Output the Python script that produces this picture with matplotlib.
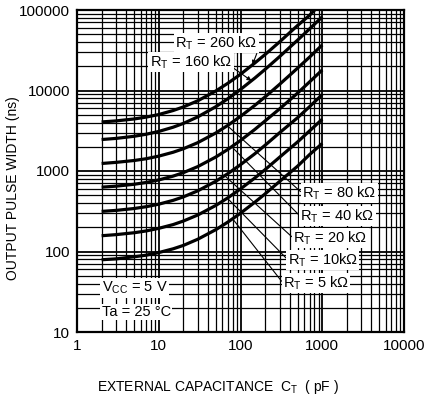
import numpy as np
import matplotlib
matplotlib.use("Agg")
import matplotlib.pyplot as plt
from matplotlib.ticker import LogLocator, FixedLocator, FixedFormatter, NullFormatter

plt.rcParams['font.family'] = ['Liberation Sans', 'DejaVu Sans']

# ---- data ----
C_PF = [2, 3, 5, 7, 10, 15, 20, 30, 50, 70, 100, 150, 200, 300, 500, 700, 1000]
TW_5K = [79, 81, 86, 90, 97, 108, 119, 142, 187, 232, 299, 410, 520, 740, 1150, 1600, 2200]
TW_10K = [157, 162, 171, 180, 194, 216, 239, 284, 374, 464, 599, 820, 1040, 1480, 2300, 3150, 4400]
TW_20K = [315, 324, 342, 360, 387, 432, 477, 567, 747, 927, 1197, 1640, 2090, 2980, 4600, 6300, 8900]
TW_40K = [630, 648, 684, 720, 774, 864, 954, 1134, 1494, 1854, 2394, 3290, 4190, 5900, 9300, 12800, 18000]
TW_80K = [1240, 1280, 1350, 1420, 1530, 1710, 1890, 2250, 2970, 3690, 4770, 6550, 8330, 11900, 19000, 26000, 36800]
TW_160K = [2460, 2540, 2700, 2860, 3100, 3500, 3900, 4700, 6300, 7900, 10300, 14300, 18300, 26300, 42300, 58300, 82300]
TW_260K = [4070, 4190, 4430, 4670, 5030, 5640, 6250, 7450, 9880, 12300, 15900, 22000, 28000, 40100, 64300, 86000, 124800]

SERIES = [TW_5K, TW_10K, TW_20K, TW_40K, TW_80K, TW_160K, TW_260K]
LABELS = ["5 kΩ", "10kΩ", "20 kΩ", "40 kΩ", "80 kΩ", "160 kΩ", "260 kΩ"]

X_TICKS = [1, 10, 100, 1000, 10000]
X_TICKLABELS = ["1", "10", "100", "1000", "10000"]
Y_TICKS = [10, 100, 1000, 10000, 100000]
Y_TICKLABELS = ["10", "100", "1000", "10000", "100000"]

fig = plt.figure(figsize=(4.24, 4.01), dpi=100)
ax = fig.add_axes([77/424, 1-332/401, (404-77)/424, (332-10)/401])
ax.set_xscale('log')
ax.set_yscale('log')
ax.set_xlim(1, 10000)
ax.set_ylim(10, 100000)

ax.xaxis.set_major_locator(FixedLocator(X_TICKS))
ax.xaxis.set_major_formatter(FixedFormatter(X_TICKLABELS))
ax.yaxis.set_major_locator(FixedLocator(Y_TICKS))
ax.yaxis.set_major_formatter(FixedFormatter(Y_TICKLABELS))
ax.xaxis.set_minor_locator(LogLocator(base=10, subs=np.arange(2, 10), numticks=20))
ax.yaxis.set_minor_locator(LogLocator(base=10, subs=np.arange(2, 10), numticks=20))
ax.xaxis.set_minor_formatter(NullFormatter())
ax.yaxis.set_minor_formatter(NullFormatter())
ax.tick_params(which='both', length=0, labelsize=11, colors='black')
ax.tick_params(axis='x', pad=5)
ax.tick_params(axis='y', pad=5)

ax.grid(which='major', color='black', lw=1.3)
ax.grid(which='minor', color='black', lw=0.9)
ax.set_axisbelow(True)
for s in ax.spines.values():
    s.set_linewidth(1.6)

for tw in SERIES:
    ax.plot(C_PF, tw, color='black', lw=2.3, solid_capstyle='butt', zorder=3)

def on_curve(tw, c):
    return 10 ** np.interp(np.log10(c), np.log10(C_PF), np.log10(tw))

bbox = dict(boxstyle='square,pad=0.1', fc='white', ec='none')
fs = 10.5

# lower labels with leader lines
lower = [(0, 80, (0.630, 0.152)), (1, 69, (0.645, 0.224)), (2, 64, (0.661, 0.292)),
         (3, 78, (0.682, 0.360)), (4, 69, (0.688, 0.432))]
for idx, c, pos in lower:
    ax.annotate("R$_\\mathregular{T}$ = " + LABELS[idx], xy=(c, on_curve(SERIES[idx], c)),
                xytext=pos, textcoords='axes fraction', ha='left', va='center',
                fontsize=fs, bbox=bbox, zorder=5,
                arrowprops=dict(arrowstyle='-', lw=0.8, color='black',
                                relpos=(0, 0.5), shrinkA=0, shrinkB=0))

# upper labels with small arrows
ax.annotate("R$_\\mathregular{T}$ = " + LABELS[6], xy=(140, on_curve(SERIES[6], 140)),
            xytext=(0.30, 0.897), textcoords='axes fraction', ha='left', va='center',
            fontsize=fs, bbox=bbox, zorder=5,
            arrowprops=dict(arrowstyle='-|>', lw=0.8, color='black', mutation_scale=6,
                            relpos=(1, 0), shrinkA=0, shrinkB=0))
ax.annotate("R$_\\mathregular{T}$ = " + LABELS[5], xy=(136, on_curve(SERIES[5], 136)),
            xytext=(0.223, 0.839), textcoords='axes fraction', ha='left', va='center',
            fontsize=fs, bbox=bbox, zorder=5,
            arrowprops=dict(arrowstyle='-|>', lw=0.8, color='black', mutation_scale=6,
                            relpos=(1, 0.2), shrinkA=0, shrinkB=0))

ax.text(0.076, 0.137, "V$_\\mathregular{CC}$ = 5 V", transform=ax.transAxes, ha='left',
        va='center', fontsize=fs, bbox=bbox, zorder=5)
ax.text(0.076, 0.062, "Ta = 25 °C", transform=ax.transAxes, ha='left',
        va='center', fontsize=fs, bbox=bbox, zorder=5)

fig.text(0.031, 0.532, "OUTPUT PULSE WIDTH (ns)", rotation=90, ha='center', va='center',
         fontsize=10)
fig.text(0.515, 0.035, "EXTERNAL CAPACITANCE  C$_\\mathregular{T}$  ( pF )", ha='center',
         va='center', fontsize=10)

fig.savefig("out.png", dpi=100, facecolor='white')
